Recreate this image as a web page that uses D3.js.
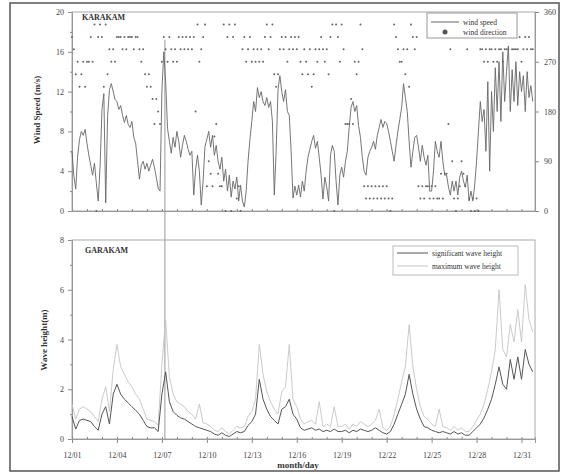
<!DOCTYPE html>
<html>
<head>
<meta charset="utf-8">
<script src="https://cdn.jsdelivr.net/npm/d3@7"></script>
<style>
  body { margin: 0; background: #fff; }
  text { font-family: "Liberation Serif", "DejaVu Serif", serif; }
</style>
</head>
<body>
<svg width="565" height="474"></svg>
<script>
// Wind speed (m/s), 3-hourly from 12/01 00h, one row per day
let windSpeed = [
  6.0, 3.5, 2.2, 5.5, 7.2, 8.0, 7.6, 8.2,
  6.8, 5.6, 4.6, 3.6, 4.8, 2.8, 1.0, 4.5,
  10.2, 11.8, 0.8, 9.5, 12.2, 12.8, 12.0, 11.2,
  11.0, 10.2, 10.6, 9.6, 8.9, 9.6, 8.7, 8.4,
  9.0, 7.4, 6.8, 5.0, 3.2, 4.6, 5.0, 4.2,
  4.8, 4.0, 4.6, 5.2, 4.4, 3.4, 2.3, 2.0,
  12.0, 16.0, 13.0, 8.3, 7.0, 5.8, 7.4, 6.4,
  8.0, 7.0, 5.4, 6.6, 7.6, 7.0, 6.2, 5.6,
  6.0, 1.6, 4.2, 5.6, 4.0, 0.6, 3.0, 6.5,
  7.2, 8.0, 6.4, 7.6, 5.6, 6.6, 5.0, 4.2,
  5.4, 3.0, 4.2, 2.0, 3.6, 1.4, 3.0, 2.2,
  3.4, 1.0, 2.6, 1.0, 0.4, 2.0, 5.0, 7.2,
  9.0, 11.0, 10.0, 12.4, 11.4, 12.0, 11.0, 10.6,
  11.4, 10.4, 11.0, 9.0, 1.6, 6.0, 12.2, 13.6,
  12.0, 11.0, 12.2, 10.0, 9.6, 6.0, 1.3, 2.5,
  1.6, 2.6, 1.4, 3.0, 2.0, 4.0, 5.4, 6.2,
  7.0, 7.6, 6.3, 7.0, 5.4, 3.6, 1.2, 3.4,
  2.4, 1.0, 5.6, 6.6, 6.0, 3.0, 0.6, 3.6,
  4.4, 3.4, 5.0, 6.0, 8.4, 10.4, 11.0, 10.0,
  10.6, 8.6, 7.4, 5.4, 4.0, 3.6, 5.4, 6.0,
  6.4, 7.0, 6.2, 7.6, 8.4, 9.2, 8.4, 9.0,
  8.8, 8.0, 7.0, 6.0, 5.0, 6.6, 8.0, 9.2,
  10.4, 12.8, 11.4, 10.0, 7.0, 4.4, 6.0, 7.4,
  7.6, 6.4, 5.0, 6.6, 5.4, 4.6, 5.6, 2.0,
  2.0, 4.0, 7.0, 6.0, 5.4, 7.0, 5.0, 3.6,
  3.6, 2.4, 1.6, 3.0, 2.0, 3.0, 1.6, 3.4,
  4.0, 3.0, 2.4, 3.6, 1.0, 2.0, 1.0, 2.6,
  5.0, 8.0, 11.0, 9.0, 10.2, 6.0, 13.0, 4.0,
  12.0, 8.0, 14.4, 10.0, 15.0, 9.0, 16.0, 11.0,
  14.0, 16.6, 10.0, 14.2, 11.0, 15.0, 10.6, 14.0,
  12.0, 13.6, 10.0, 14.0, 11.4, 12.6, 11.0
];

// Wind direction (deg), same 3-hourly steps
let windDir = [
  315, 292.5, 247.5, 270, 225, 247.5, 270, 225,
  270, 270, 315, 270, 337.5, 0, 315, 337.5,
  315, 225, 337.5, 247.5, 292.5, 270, 292.5, 270,
  315, 315, 315, 292.5, 315, 292.5, 315, 315,
  315, 292.5, 315, 315, 292.5, 270, 292.5, 247.5,
  225, 247.5, 225, 202.5, 157.5, 202.5, 180, 157.5,
  270, 315, 292.5, 270, 315, 292.5, 270, 292.5,
  270, 315, 292.5, 315, 292.5, 315, 292.5, 315,
  292.5, 315, 180, 337.5, 270, 292.5, 315, 337.5,
  45, 90, 67.5, 45, 135, 157.5, 67.5, 45,
  45, 337.5, 0, 315, 337.5, 0, 315, 337.5,
  22.5, 45, 0, 292.5, 315, 270, 292.5, 315,
  270, 292.5, 270, 292.5, 270, 292.5, 270, 315,
  337.5, 292.5, 315, 337.5, 247.5, 225, 247.5, 292.5,
  315, 292.5, 315, 270, 292.5, 315, 292.5, 315,
  292.5, 315, 270, 247.5, 292.5, 270, 247.5, 292.5,
  225, 247.5, 292.5, 270, 292.5, 315, 292.5, 270,
  292.5, 247.5, 315, 337.5, 0, 337.5, 315, 270,
  337.5, 292.5, 157.5, 157.5, 157.5, 202.5, 157.5, 270,
  247.5, 270, 337.5, 292.5, 45, 22.5, 45, 22.5,
  45, 22.5, 45, 22.5, 45, 22.5, 45, 22.5,
  45, 22.5, 0, 22.5, 337.5, 315, 292.5, 270,
  270, 292.5, 247.5, 292.5, 225, 337.5, 315, 292.5,
  315, 45, 22.5, 45, 22.5, 45, 45, 22.5,
  45, 22.5, 45, 22.5, 22.5, 67.5, 22.5, 67.5,
  67.5, 157.5, 292.5, 90, 22.5, 0, 22.5, 45,
  90, 67.5, 45, 292.5, 22.5, 0, 22.5, 0,
  22.5, 0, 292.5, 292.5, 270, 292.5, 270, 292.5,
  292.5, 270, 292.5, 270, 292.5, 292.5, 270, 292.5,
  292.5, 292.5, 315, 292.5, 292.5, 292.5, 292.5, 315,
  270, 292.5, 315, 292.5, 315, 292.5, 292.5
];

// Significant wave height (m), 6-hourly
let sigWave = [
  0.9, 0.4, 0.75, 0.8,   0.75, 0.7, 0.5, 0.35,   1.0, 1.3, 0.6, 1.8,
  2.2, 1.8, 1.6, 1.45,   1.3, 1.15, 1.0, 0.75,   0.5, 0.45, 0.45, 0.3,
  1.8, 2.7, 1.5, 1.1,    0.95, 0.85, 0.8, 0.7,   0.6, 0.5, 0.45, 0.4,
  0.35, 0.3, 0.2, 0.15,  0.25, 0.15, 0.1, 0.2,   0.3, 0.25, 0.3, 0.55,
  0.7, 1.0, 2.4, 1.6,    1.2, 0.9, 0.75, 0.6,    1.2, 1.3, 1.6, 1.0,
  0.8, 0.45, 0.35, 0.4,  0.45, 0.35, 0.4, 0.3,   0.35, 0.3, 0.4, 0.3,
  0.3, 0.35, 0.25, 0.35, 0.3, 0.4, 0.35, 0.3,    0.35, 0.45, 0.35, 0.25,
  0.2, 0.3, 0.6, 1.0,    1.4, 1.8, 2.6, 1.8,     1.2, 0.8, 0.5, 0.45,
  0.35, 0.3, 0.25, 0.3,  0.25, 0.2, 0.3, 0.2,    0.25, 0.15, 0.15, 0.3,
  0.45, 0.6, 0.85, 1.2,  1.6, 2.2, 2.9, 2.2,     2.0, 3.2, 2.4, 3.3,
  2.4, 3.6, 3.0, 2.7
];

// Maximum wave height (m), 6-hourly
let maxWave = [
  1.4, 0.8, 1.2, 1.3,    1.2, 1.1, 0.9, 0.7,     1.6, 2.1, 1.1, 2.8,
  3.8, 2.9, 2.6, 2.3,    2.1, 1.8, 1.6, 1.2,     0.8, 0.75, 0.7, 0.55,
  3.0, 4.8, 2.5, 1.8,    1.5, 1.4, 1.3, 1.1,     1.0, 0.8, 1.4, 0.65,
  0.6, 0.5, 0.35, 0.3,   0.45, 0.3, 0.2, 0.35,   0.5, 0.45, 0.5, 0.9,
  1.1, 1.6, 3.8, 2.6,    1.9, 1.5, 1.2, 1.0,     1.9, 2.1, 3.8, 1.6,
  1.3, 0.8, 0.6, 0.7,    0.75, 0.6, 1.5, 0.5,    0.6, 0.5, 1.3, 0.5,
  0.5, 0.6, 0.4, 0.6,    0.5, 0.7, 0.6, 0.5,     0.6, 0.75, 1.2, 0.45,
  0.35, 0.5, 1.0, 1.6,   2.3, 2.9, 4.6, 2.9,     2.0, 1.3, 0.9, 0.8,
  0.6, 0.5, 1.2, 0.5,    0.45, 0.35, 0.5, 0.35,  0.45, 0.3, 0.3, 0.5,
  0.75, 1.0, 1.4, 2.0,   2.7, 3.6, 6.0, 3.6,     3.3, 4.6, 3.9, 5.2,
  3.9, 6.2, 4.8, 4.3
];

// Tick labels
let dayTicks = [0, 3, 6, 9, 12, 15, 18, 21, 24, 27, 30];
let dayLabels = ['12/01', '12/04', '12/07', '12/10', '12/13', '12/16', '12/19', '12/22', '12/25', '12/28', '12/31'];
let speedTicks = [0, 4, 8, 12, 16, 20];
let dirTicks = [0, 90, 180, 270, 360];
let waveTicks = [0, 2, 4, 6, 8];
let eventDay = 6.2;

let svg = d3.select('svg');

// Scales
let x = d3.scaleLinear().domain([0, 30.9]).range([72, 535]);
let ySpeed = d3.scaleLinear().domain([0, 20]).range([211, 12]);
let yDir = d3.scaleLinear().domain([0, 360]).range([211, 12]);
let yWave = d3.scaleLinear().domain([0, 8]).range([439, 240]);

// Outer frame
svg.append('rect')
    .attr('x', 10).attr('y', 3)
    .attr('width', 549).attr('height', 468)
    .attr('fill', 'none')
    .attr('stroke', '#555')
    .attr('stroke-width', 1.5);

// Panel frames
svg.append('rect')
    .attr('x', 72).attr('y', 12)
    .attr('width', 463).attr('height', 199)
    .attr('fill', 'none').attr('stroke', '#aaa');
svg.append('rect')
    .attr('x', 72).attr('y', 240)
    .attr('width', 463).attr('height', 199)
    .attr('fill', 'none').attr('stroke', '#aaa');

// Helper to style axes
function styleAxis(g) {
    g.selectAll('path').attr('stroke', '#999');
    g.selectAll('line').attr('stroke', '#888');
    g.selectAll('text')
        .attr('fill', '#444')
        .style('font-size', '8px')
        .style('font-family', '"Liberation Serif", serif');
}

// Top panel axes
svg.append('g')
    .attr('transform', 'translate(72,0)')
    .call(d3.axisLeft(ySpeed).tickValues(speedTicks).tickSize(4).tickPadding(4))
    .call(styleAxis);
svg.append('g')
    .attr('transform', 'translate(72,0)')
    .call(d3.axisLeft(ySpeed).tickValues(d3.range(2, 20, 4)).tickSize(2).tickFormat(''))
    .call(styleAxis);
svg.append('g')
    .attr('transform', 'translate(535,0)')
    .call(d3.axisRight(yDir).tickValues(dirTicks).tickSize(4).tickPadding(5))
    .call(styleAxis);
svg.append('g')
    .attr('transform', 'translate(0,211)')
    .call(d3.axisBottom(x).tickValues(d3.range(0, 31, 1)).tickSize(-2).tickFormat(''))
    .call(styleAxis);

// Bottom panel axes
svg.append('g')
    .attr('transform', 'translate(72,0)')
    .call(d3.axisLeft(yWave).tickValues(waveTicks).tickSize(4).tickPadding(4))
    .call(styleAxis);
svg.append('g')
    .attr('transform', 'translate(72,0)')
    .call(d3.axisLeft(yWave).tickValues([1, 3, 5, 7]).tickSize(2).tickFormat(''))
    .call(styleAxis);
svg.append('g')
    .attr('transform', 'translate(0,439)')
    .call(d3.axisBottom(x).tickValues(dayTicks).tickSize(4).tickPadding(9)
        .tickFormat((d, i) => dayLabels[i]))
    .call(styleAxis);
svg.append('g')
    .attr('transform', 'translate(0,439)')
    .call(d3.axisBottom(x).tickValues(d3.range(0, 31, 1)).tickSize(-2).tickFormat(''))
    .call(styleAxis);

// Event marker line
svg.append('line')
    .attr('x1', x(eventDay)).attr('x2', x(eventDay))
    .attr('y1', 40).attr('y2', 439)
    .attr('stroke', '#999').attr('stroke-width', 1);

// Wind direction dots
svg.append('g')
    .selectAll('circle')
    .data(windDir)
    .enter().append('circle')
    .attr('cx', (d, i) => x(i * 0.125))
    .attr('cy', d => yDir(d))
    .attr('r', 1)
    .attr('fill', '#666');

// Wind speed line
let speedLine = d3.line()
    .x((d, i) => x(i * 0.125))
    .y(d => ySpeed(d));
svg.append('path')
    .datum(windSpeed)
    .attr('d', speedLine)
    .attr('fill', 'none')
    .attr('stroke', '#666')
    .attr('stroke-width', 0.9);

// Wave height lines
let waveLine = d3.line()
    .x((d, i) => x(i * 0.25))
    .y(d => yWave(d));
svg.append('path')
    .datum(maxWave)
    .attr('d', waveLine)
    .attr('fill', 'none')
    .attr('stroke', '#c4c4c4')
    .attr('stroke-width', 0.9);
svg.append('path')
    .datum(sigWave)
    .attr('d', waveLine)
    .attr('fill', 'none')
    .attr('stroke', '#555')
    .attr('stroke-width', 1);

// Panel labels
svg.append('text')
    .attr('x', 82).attr('y', 20)
    .attr('font-size', '8px').attr('font-weight', 'bold').attr('fill', '#333')
    .text('KARAKAM');
svg.append('text')
    .attr('x', 85).attr('y', 253)
    .attr('font-size', '8px').attr('font-weight', 'bold').attr('fill', '#333')
    .text('GARAKAM');

// Axis titles
svg.append('text')
    .attr('transform', 'translate(40,110) rotate(-90)')
    .attr('text-anchor', 'middle')
    .attr('font-size', '9px').attr('font-weight', 'bold').attr('fill', '#333')
    .text('Wind Speed (m/s)');
svg.append('text')
    .attr('transform', 'translate(47,340) rotate(-90)')
    .attr('text-anchor', 'middle')
    .attr('font-size', '9px').attr('font-weight', 'bold').attr('fill', '#333')
    .text('Wave height(m)');
svg.append('text')
    .attr('x', 298).attr('y', 468)
    .attr('text-anchor', 'middle')
    .attr('font-size', '9px').attr('font-weight', 'bold').attr('fill', '#333')
    .text('month/day');

// Top legend
let leg1 = svg.append('g');
leg1.append('rect')
    .attr('x', 427).attr('y', 13).attr('width', 90).attr('height', 25)
    .attr('fill', '#fff').attr('stroke', '#999');
leg1.append('line')
    .attr('x1', 431).attr('x2', 459).attr('y1', 22).attr('y2', 22)
    .attr('stroke', '#666');
leg1.append('circle')
    .attr('cx', 445).attr('cy', 32).attr('r', 2.5).attr('fill', '#555');
leg1.append('text').attr('x', 463).attr('y', 25)
    .attr('font-size', '7.5px').attr('fill', '#333').text('wind speed');
leg1.append('text').attr('x', 463).attr('y', 35)
    .attr('font-size', '7.5px').attr('fill', '#333').text('wind direction');

// Bottom legend
let leg2 = svg.append('g');
leg2.append('rect')
    .attr('x', 393).attr('y', 246).attr('width', 125).attr('height', 29)
    .attr('fill', '#fff').attr('stroke', '#bbb');
leg2.append('line')
    .attr('x1', 397).attr('x2', 428).attr('y1', 253).attr('y2', 253)
    .attr('stroke', '#555');
leg2.append('line')
    .attr('x1', 397).attr('x2', 428).attr('y1', 266).attr('y2', 266)
    .attr('stroke', '#c4c4c4');
leg2.append('text').attr('x', 432).attr('y', 256)
    .attr('font-size', '7.5px').attr('fill', '#333').text('significant wave height');
leg2.append('text').attr('x', 432).attr('y', 269)
    .attr('font-size', '7.5px').attr('fill', '#333').text('maximum wave height');
</script>
</body>
</html>
